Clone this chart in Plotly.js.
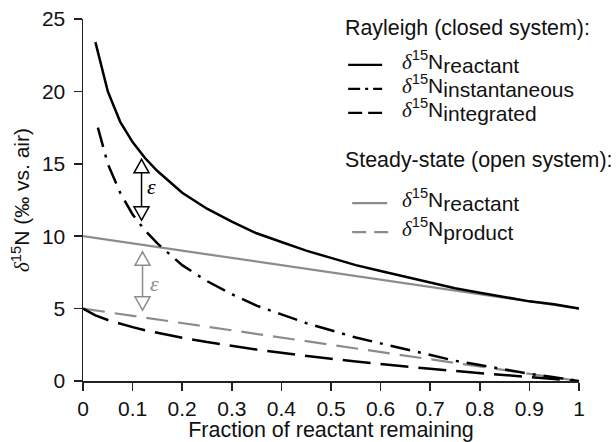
<!DOCTYPE html>
<html><head><meta charset="utf-8">
<script src="https://cdn.plot.ly/plotly-3.0.1.min.js"></script>
<style>html,body{margin:0;padding:0;background:#fff}#chart{width:616px;height:442px}</style>
</head><body><div id="chart"></div>
<script>
// Rayleigh (closed system)
const fracReactant = [0.025,0.05,0.075,0.1,0.125,0.15,0.2,0.25,0.3,0.35,0.4,0.45,0.5,0.55,0.6,0.65,0.7,0.75,0.8,0.85,0.9,0.95,1];
const rayleighReactant = [23.4,20.0,17.9,16.5,15.4,14.5,13.0,11.9,11.0,10.2,9.6,9.0,8.5,8.0,7.6,7.2,6.8,6.4,6.1,5.8,5.5,5.3,5.0];
const fracInstant = [0.03,0.05,0.075,0.1,0.125,0.15,0.2,0.25,0.3,0.35,0.4,0.45,0.5,0.55,0.6,0.65,0.7,0.75,0.8,0.85,0.9,0.95,1];
const rayleighInstant = [17.5,15.0,13.0,11.5,10.4,9.5,8.0,6.9,6.0,5.2,4.6,4.0,3.5,3.0,2.6,2.2,1.8,1.4,1.1,0.8,0.5,0.26,0];
const fracIntegrated = [0,0.025,0.05,0.075,0.1,0.125,0.15,0.2,0.25,0.3,0.35,0.4,0.45,0.5,0.55,0.6,0.65,0.7,0.75,0.8,0.85,0.9,0.95,1];
const rayleighIntegrated = [5.0,4.53,4.21,3.95,3.72,3.51,3.33,2.99,2.69,2.42,2.17,1.95,1.73,1.53,1.35,1.17,1.0,0.84,0.69,0.54,0.40,0.26,0.13,0];
// Steady-state (open system)
const fracSteady = [0,1];
const steadyReactant = [10,5];
const steadyProduct = [5,0];
// epsilon arrows: [x, apexTop, baseTop, baseBottom, apexBottom]
const epsBlack = [0.118,15.31,14.38,12.03,11.11];
const epsGray = [0.120,8.92,8.0,5.81,4.89];
const xTicks = [0,0.1,0.2,0.3,0.4,0.5,0.6,0.7,0.8,0.9,1];
const xTickText = ['0','0.1','0.2','0.3','0.4','0.5','0.6','0.7','0.8','0.9','1'];
const yTicks = [0,5,10,15,20,25];

const F = 'Liberation Sans, Arial, Helvetica, sans-serif';
const SERIF = 'Liberation Serif, Times New Roman, serif';
const BLACK = '#000000', GRAY = '#8c8c8c';
const FS = 21;

const traces = [
  {x: fracSteady, y: steadyReactant, mode:'lines', line:{color:GRAY,width:2.2}},
  {x: fracSteady, y: steadyProduct, mode:'lines', line:{color:GRAY,width:2.2,dash:'22px,10px'}},
  {x: fracReactant, y: rayleighReactant, mode:'lines', line:{color:BLACK,width:2.5}},
  {x: fracInstant, y: rayleighInstant, mode:'lines', line:{color:BLACK,width:2.5,dash:'20px,8px,3px,8px'}},
  {x: fracIntegrated, y: rayleighIntegrated, mode:'lines', line:{color:BLACK,width:2.5,dash:'28px,10px'}}
];

const HW = 0.0151; // triangle half width in x units
function arrowShapes(a, col){
  const [x, at, bt, bb, ab] = a;
  return [
    {type:'line', xref:'x', yref:'y', x0:x, x1:x, y0:bt, y1:bb, line:{color:col,width:1.5}},
    {type:'path', xref:'x', yref:'y', path:`M${x},${at} L${x-HW},${bt} L${x+HW},${bt} Z`, fillcolor:'#ffffff', line:{color:col,width:1.5}},
    {type:'path', xref:'x', yref:'y', path:`M${x},${ab} L${x-HW},${bb} L${x+HW},${bb} Z`, fillcolor:'#ffffff', line:{color:col,width:1.5}}
  ];
}

// legend layout in pixels
const L = 83, R = 578.7, T = 19.2, B = 380.7;
const px = v => (v - L) / (R - L);
const py = v => (B - v) / (B - T);

const legendItems = [
  {y:65, col:BLACK, dash:'solid', x0:348, x1:382, sub:'reactant'},
  {y:89, col:BLACK, dash:'12px,5px,3px,5px', x0:348, x1:382, sub:'instantaneous'},
  {y:113, col:BLACK, dash:'14px,6px', x0:348, x1:382, sub:'integrated'},
  {y:203, col:GRAY, dash:'solid', x0:352, x1:387, sub:'reactant'},
  {y:232, col:GRAY, dash:'14px,8px', x0:352, x1:388, sub:'product'}
];
const legendHeaders = [
  {y:28, text:'Rayleigh (closed system):'},
  {y:160, text:'Steady-state (open system):'}
];

const shapes = [...arrowShapes(epsBlack, BLACK), ...arrowShapes(epsGray, GRAY)];
const annotations = [];
legendItems.forEach(it => {
  shapes.push({type:'line', xref:'paper', yref:'paper', x0:px(it.x0), x1:px(it.x1), y0:py(it.y), y1:py(it.y),
    line:{color:it.col, width:2.2, dash:it.dash}});
  annotations.push({xref:'paper', yref:'paper', x:px(400), y:py(it.y-3), xanchor:'left', yanchor:'middle', showarrow:false,
    text:`<span style="font-family:${SERIF};font-style:italic">δ</span><sup>15</sup>N<sub><span style="font-size:${FS}px">${it.sub}</span></sub>`,
    font:{family:F, size:FS, color:'#111'}});
});
legendHeaders.forEach(h => {
  annotations.push({xref:'paper', yref:'paper', x:px(343), y:py(h.y), xanchor:'left', yanchor:'middle', showarrow:false,
    text:h.text, font:{family:F, size:21.4, color:'#111'}});
});
annotations.push({xref:'x', yref:'y', x:0.139, y:13.42, xanchor:'center', yanchor:'middle', showarrow:false,
  text:'ε', font:{family:SERIF, size:22, color:BLACK, style:'italic'}});
annotations.push({xref:'x', yref:'y', x:0.145, y:6.73, xanchor:'center', yanchor:'middle', showarrow:false,
  text:'ε', font:{family:SERIF, size:22, color:GRAY, style:'italic'}});

const layout = {
  width:616, height:442,
  margin:{l:L, r:616-R, t:T, b:442-B, pad:0},
  paper_bgcolor:'#ffffff', plot_bgcolor:'#ffffff',
  showlegend:false,
  font:{family:F, size:FS, color:'#111'},
  xaxis:{range:[0,1], tickvals:xTicks, ticktext:xTickText, ticks:'outside', ticklen:8, tickwidth:1.5, tickcolor:'#222',
    showline:true, linecolor:'#222', linewidth:1.5, showgrid:false, zeroline:false, ticklabelstandoff:0,
    title:{text:'Fraction of reactant remaining', font:{family:F, size:21.5}, standoff:0}, fixedrange:true},
  yaxis:{range:[0,25], tickvals:yTicks, ticks:'outside', ticklen:8, tickwidth:1.5, tickcolor:'#222',
    showline:true, linecolor:'#222', linewidth:1.5, showgrid:false, zeroline:false, ticklabelstandoff:4,
    title:{text:`<span style="font-family:${SERIF};font-style:italic">δ</span><sup>15</sup>N (‰ vs. air)`, font:{family:F, size:FS}, standoff:6}, fixedrange:true},
  shapes:shapes,
  annotations:annotations
};
Plotly.newPlot('chart', traces, layout, {staticPlot:true, displayModeBar:false});
</script></body></html>
